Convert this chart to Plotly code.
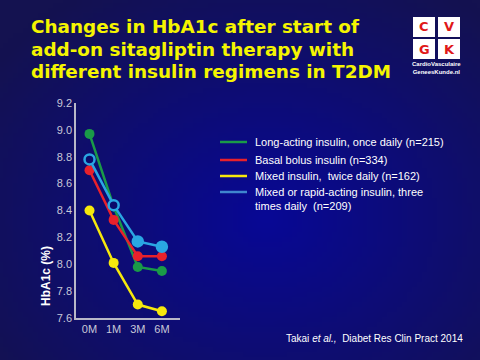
import plotly.graph_objects as go
import zlib, struct, base64, math

# ---- data ----
months = ["0M", "1M", "3M", "6M"]
long_acting = [8.97, 8.43, 7.98, 7.95]
basal_bolus = [8.70, 8.33, 8.06, 8.06]
mixed_twice = [8.40, 8.01, 7.70, 7.65]
mixed_three = [8.78, 8.44, 8.17, 8.13]
series_names = [
    "Long-acting insulin, once daily (n=215)",
    "Basal bolus insulin (n=334)",
    "Mixed insulin,  twice daily (n=162)",
    "Mixed or rapid-acting insulin, three<br>times daily  (n=209)",
]
y_ticks = [7.6, 7.8, 8.0, 8.2, 8.4, 8.6, 8.8, 9.0, 9.2]

colors = ["#1a9a48", "#e8212b", "#f6e80c", "#2aa6e2"]
legend_colors = ["#1a9a48", "#e8212b", "#f6e80c", "#3f86cf"]

# ---- background gradient png ----
def make_png(w, h):
    rows = b""
    for j in range(h):
        row = b"\x00"
        for i in range(w):
            dx = (i - w * 0.55) / (w * 0.7)
            dy = (j - h * 0.6) / (h * 0.75)
            d = min(1.0, math.sqrt(dx * dx + dy * dy))
            r = int(8 + 12 * d)
            g = int(8 + 10 * d)
            b = int(150 - 70 * d)
            row += bytes([r, g, b])
        rows += row
    def chunk(t, data):
        c = struct.pack(">I", len(data)) + t + data
        return c + struct.pack(">I", zlib.crc32(t + data) & 0xffffffff)
    png = b"\x89PNG\r\n\x1a\n"
    png += chunk(b"IHDR", struct.pack(">IIBBBBB", w, h, 8, 2, 0, 0, 0))
    png += chunk(b"IDAT", zlib.compress(rows))
    png += chunk(b"IEND", b"")
    return "data:image/png;base64," + base64.b64encode(png).decode()

bg = make_png(96, 72)

xpos = list(range(len(months)))
fig = go.Figure()
all_series = [long_acting, basal_bolus, mixed_twice, mixed_three]
for k, (vals, col) in enumerate(zip(all_series, colors)):
    if k == 3:
        mcol = ["#0a0a6a", "#0a0a6a", col, col]
        mline = dict(color=col, width=2.5)
    else:
        mcol = col
        mline = dict(color=col, width=0)
    fig.add_trace(go.Scatter(
        x=xpos, y=vals, mode="lines+markers",
        line=dict(color=col, width=2.5),
        marker=dict(size=10, color=mcol, line=mline),
        showlegend=False, name=series_names[k],
    ))

W, H = 480, 360
L, R, T, B = 76, 300, 103, 42

fig.update_layout(
    width=W, height=H,
    margin=dict(l=L, r=R, t=T, b=B),
    paper_bgcolor="#0a0a80",
    plot_bgcolor="rgba(0,0,0,0)",
    images=[dict(source=bg, xref="paper", yref="paper", x=-L / (W - L - R), y=1 + T / (H - T - B),
                 sizex=W / (W - L - R), sizey=H / (H - T - B), sizing="stretch",
                 xanchor="left", yanchor="top", layer="below")],
    xaxis=dict(range=[-0.56, 3.75], tickvals=xpos, ticktext=months, showgrid=False, zeroline=False,
               showline=True, linecolor="#b8b8c8", linewidth=1.5, ticks="",
               tickfont=dict(family="Liberation Sans, Arial", size=11, color="#c8c8d8")),
    yaxis=dict(range=[7.6, 9.2], tickvals=y_ticks, ticktext=[f"{v:.1f}" for v in y_ticks],
               showgrid=False, zeroline=False, showline=True, linecolor="#b8b8c8", linewidth=1.5,
               ticks="", tickfont=dict(family="Liberation Sans, Arial", size=11, color="#c8c8d8")),
    font=dict(family="Liberation Sans, Arial"),
)

pw, ph = W - L - R, H - T - B
def px(x):
    return (x - L) / pw
def py(y):
    return 1 - (y - T) / ph

ann = []
shapes = []
# title
title_lines = ["Changes in HbA1c after start of", "add-on sitagliptin therapy with",
               "different insulin regimens in T2DM"]
for i, t in enumerate(title_lines):
    ann.append(dict(text=f"<b>{t}</b>", x=px(29), y=py(27 + 22 * i), xref="paper", yref="paper",
                    xanchor="left", yanchor="middle", showarrow=False,
                    font=dict(family="DejaVu Sans", size=18.4, color="#f5f500")))
# y-axis label
ann.append(dict(text="<b>HbA1c (%)</b>", x=px(46), y=py(276), xref="paper", yref="paper",
                textangle=-90, showarrow=False, xanchor="center", yanchor="middle",
                font=dict(family="Liberation Sans, Arial", size=12, color="white")))
# legend
leg_y = [142, 160, 176, 199]
for i, (name, col) in enumerate(zip(series_names, legend_colors)):
    ly = leg_y[i] if i < 3 else 192
    shapes.append(dict(type="line", xref="paper", yref="paper", x0=px(220), x1=px(247),
                       y0=py(ly), y1=py(ly), line=dict(color=col, width=2.5)))
    ann.append(dict(text=name, x=px(253), y=py(leg_y[i]), xref="paper", yref="paper",
                    xanchor="left", yanchor="middle", showarrow=False, align="left",
                    font=dict(family="Liberation Sans, Arial", size=11, color="white")))
# citation
ann.append(dict(text="Takai <i>et al.,</i>  Diabet Res Clin Pract 2014", x=px(465), y=py(338),
                xref="paper", yref="paper", xanchor="right", yanchor="middle", showarrow=False,
                font=dict(family="Liberation Sans, Arial", size=10, color="white")))
# logo
boxes = [("C", 413, 17), ("V", 438, 17), ("G", 413, 39), ("K", 438, 39)]
for letter, bx, by in boxes:
    shapes.append(dict(type="rect", xref="paper", yref="paper", x0=px(bx), x1=px(bx + 22),
                       y0=py(by), y1=py(by + 20), fillcolor="white", line=dict(width=0)))
    ann.append(dict(text=f"<b>{letter}</b>", x=px(bx + 11), y=py(by + 10), xref="paper", yref="paper",
                    showarrow=False, xanchor="center", yanchor="middle",
                    font=dict(family="DejaVu Sans", size=13, color="#e01818")))
ann.append(dict(text="<b>CardioVasculaire<br>GeneesKunde.nl</b>", x=px(436), y=py(68), xref="paper", yref="paper",
                showarrow=False, xanchor="center", yanchor="middle",
                font=dict(family="Liberation Sans Narrow, Liberation Sans", size=6, color="white")))

fig.update_layout(annotations=ann, shapes=shapes)
fig.write_html("out.html", config={"displayModeBar": False},
               post_script="document.body.style.margin='0';document.body.style.background='#0a0a80';")
